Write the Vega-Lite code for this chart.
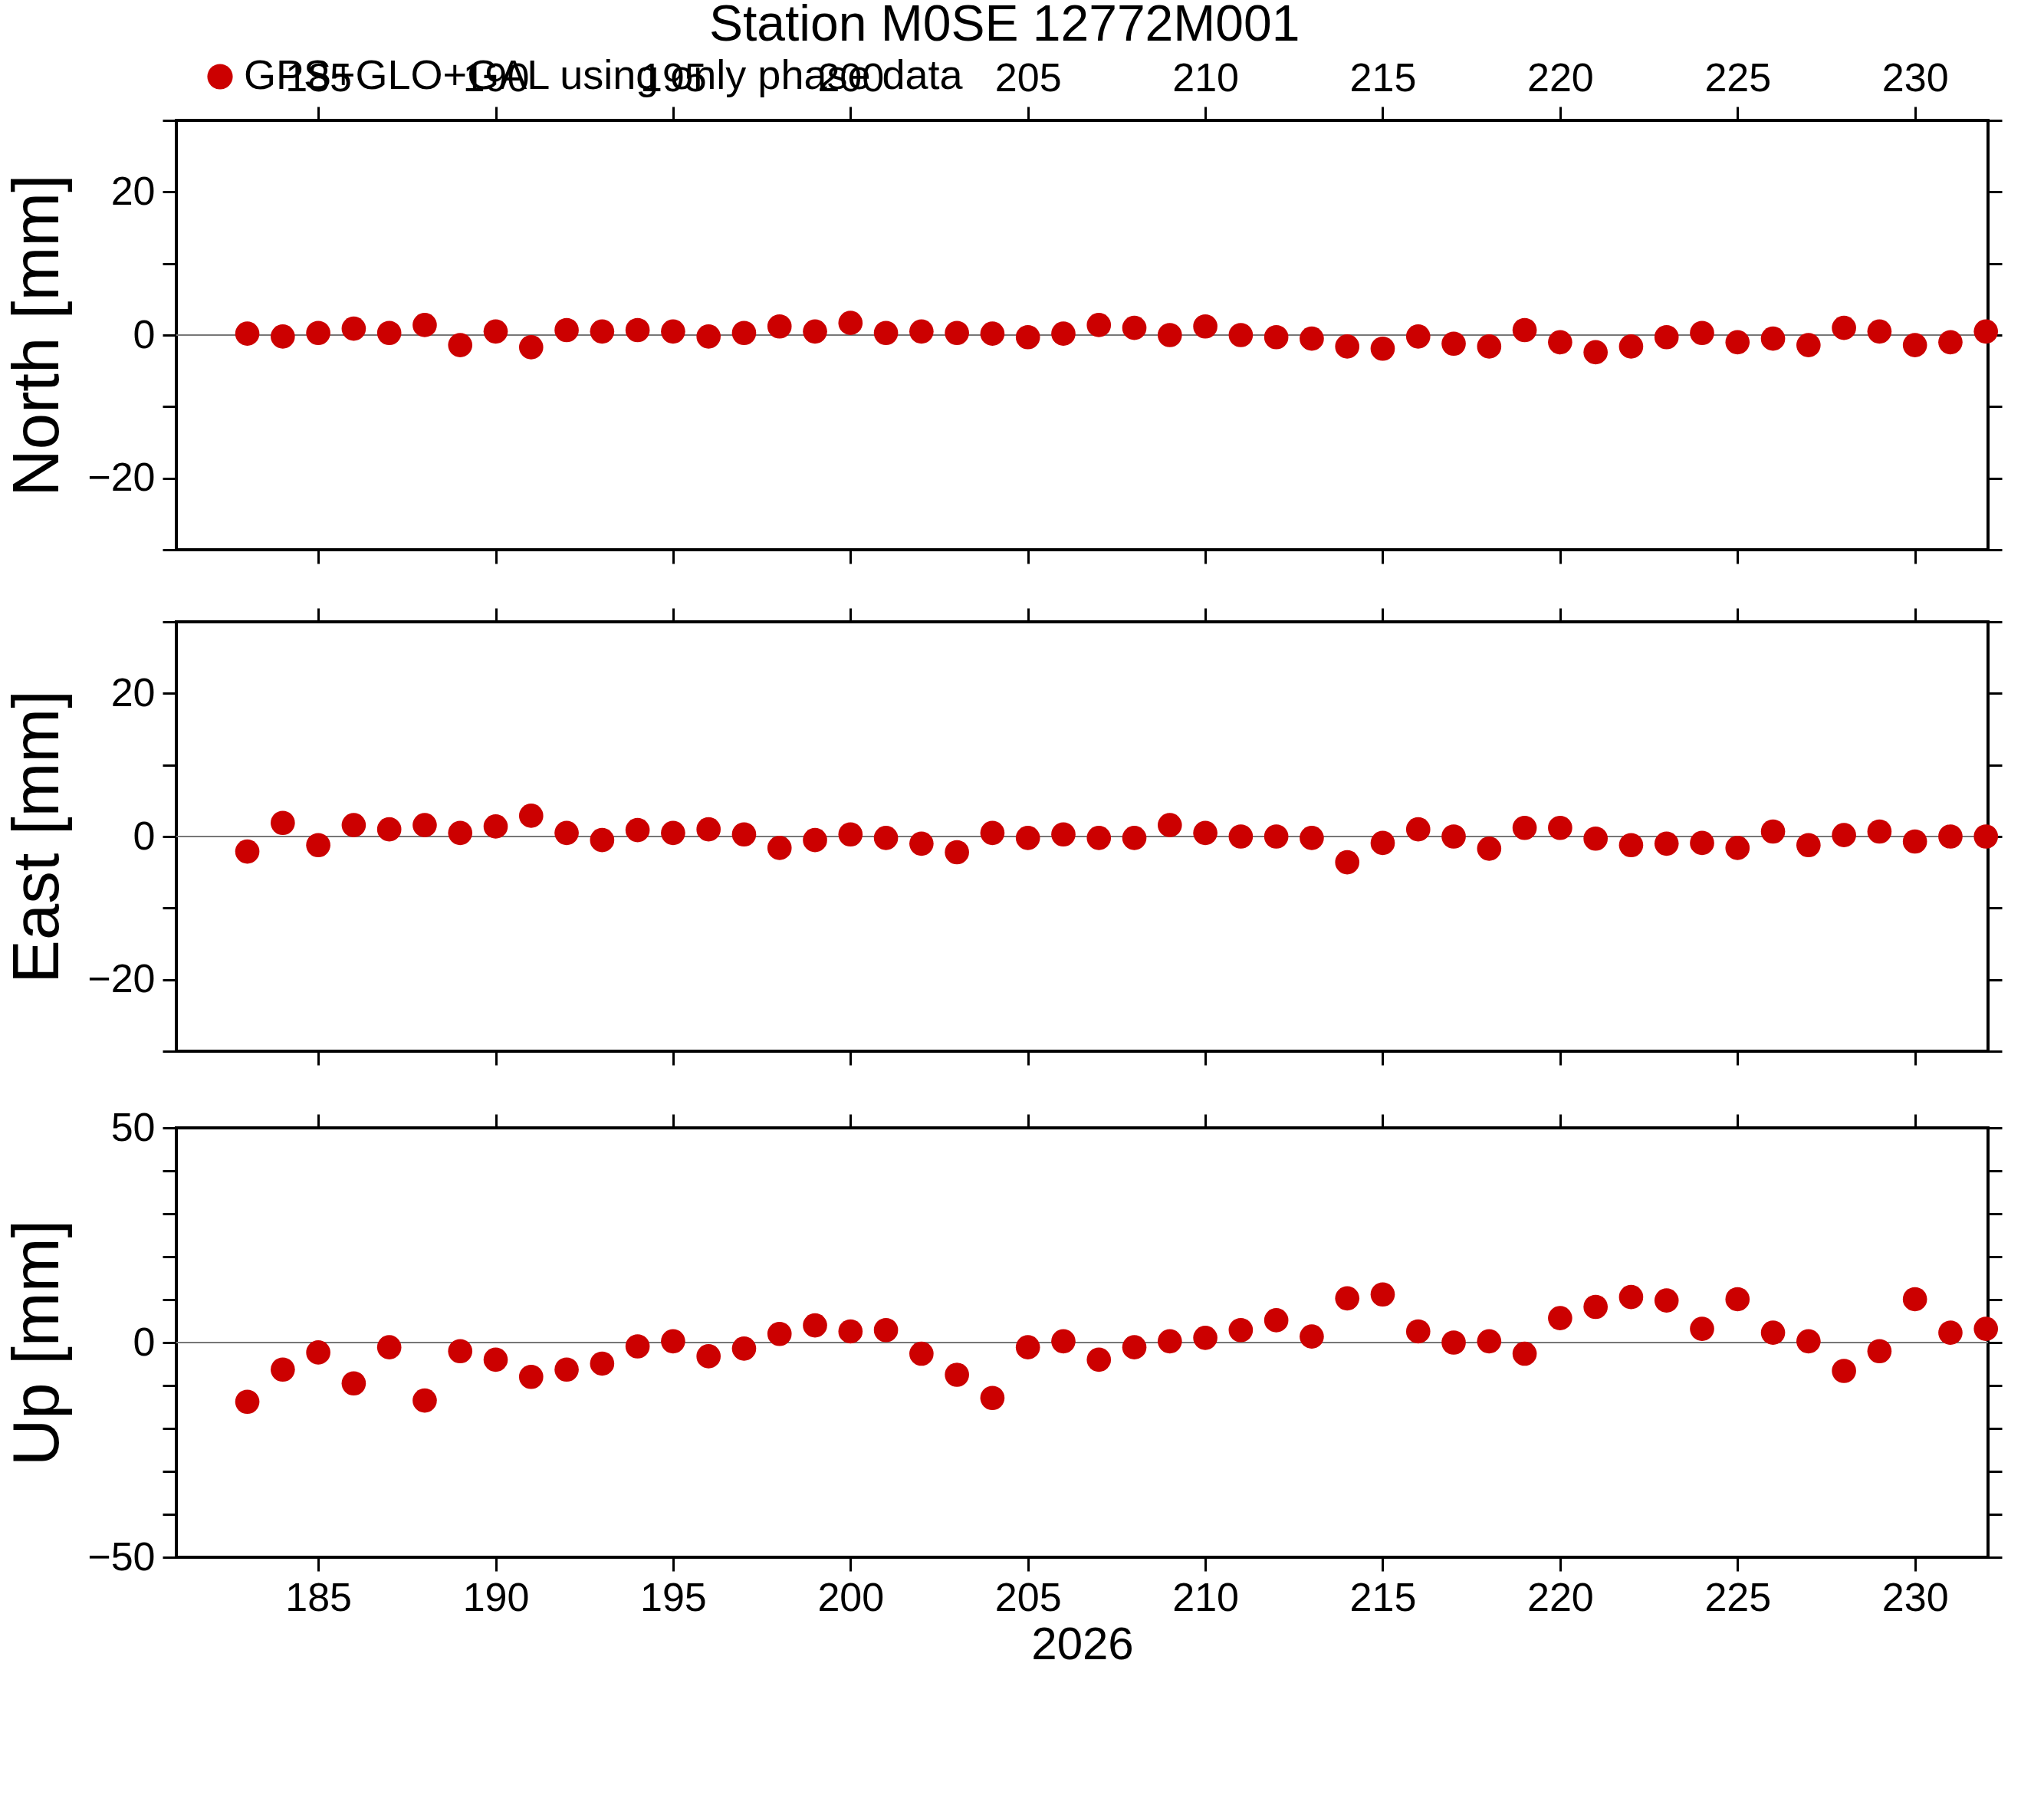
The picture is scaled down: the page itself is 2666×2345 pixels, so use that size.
{
  "$schema": "https://vega.github.io/schema/vega-lite/v6.json",
  "background": "white",
  "padding": {"left": 5, "top": 0, "right": 20, "bottom": 5},
  "title": {"text": "Station M0SE 12772M001", "fontSize": 66, "font": "Liberation Sans", "fontWeight": "normal", "offset": 6, "anchor": "middle"},
  "config": {
    "font": "Liberation Sans",
    "view": {"stroke": "black", "strokeWidth": 4},
    "axis": {"labelFont": "Liberation Sans", "labelFontSize": 52, "labelColor": "black", "tickColor": "black", "tickWidth": 3, "tickSize": 18, "domain": false, "grid": false, "titleFont": "Liberation Sans", "titleFontWeight": "normal", "titleColor": "black", "labelPadding": 10},
    "concat": {"spacing": 50},
    "legend": {"orient": "bottom-left", "labelFontSize": 54, "labelFont": "Liberation Sans", "symbolSize": 1100, "title": null, "offset": 30, "labelLimit": 2000}
  },
  "datasets": {
    "north": [
      {"day":183,"value":0.2},{"day":184,"value":-0.2},{"day":185,"value":0.3},{"day":186,"value":0.9},{"day":187,"value":0.3},{"day":188,"value":1.4},{"day":189,"value":-1.4},{"day":190,"value":0.5},{"day":191,"value":-1.7},{"day":192,"value":0.7},
      {"day":193,"value":0.5},{"day":194,"value":0.7},{"day":195,"value":0.5},{"day":196,"value":-0.2},{"day":197,"value":0.3},{"day":198,"value":1.2},{"day":199,"value":0.5},{"day":200,"value":1.7},{"day":201,"value":0.3},{"day":202,"value":0.5},
      {"day":203,"value":0.3},{"day":204,"value":0.2},{"day":205,"value":-0.3},{"day":206,"value":0.2},{"day":207,"value":1.4},{"day":208,"value":1.0},{"day":209,"value":0.0},{"day":210,"value":1.2},{"day":211,"value":0.0},{"day":212,"value":-0.3},
      {"day":213,"value":-0.5},{"day":214,"value":-1.6},{"day":215,"value":-1.9},{"day":216,"value":-0.2},{"day":217,"value":-1.2},{"day":218,"value":-1.6},{"day":219,"value":0.7},{"day":220,"value":-1.0},{"day":221,"value":-2.4},{"day":222,"value":-1.6},
      {"day":223,"value":-0.3},{"day":224,"value":0.3},{"day":225,"value":-1.0},{"day":226,"value":-0.5},{"day":227,"value":-1.4},{"day":228,"value":1.0},{"day":229,"value":0.5},{"day":230,"value":-1.4},{"day":231,"value":-1.0},{"day":232,"value":0.5}
    ],
    "east": [
      {"day":183,"value":-2.1},{"day":184,"value":1.9},{"day":185,"value":-1.2},{"day":186,"value":1.6},{"day":187,"value":1.0},{"day":188,"value":1.6},{"day":189,"value":0.5},{"day":190,"value":1.4},{"day":191,"value":2.9},{"day":192,"value":0.5},
      {"day":193,"value":-0.5},{"day":194,"value":0.9},{"day":195,"value":0.5},{"day":196,"value":1.0},{"day":197,"value":0.3},{"day":198,"value":-1.6},{"day":199,"value":-0.5},{"day":200,"value":0.3},{"day":201,"value":-0.2},{"day":202,"value":-1.0},
      {"day":203,"value":-2.2},{"day":204,"value":0.5},{"day":205,"value":-0.2},{"day":206,"value":0.3},{"day":207,"value":-0.2},{"day":208,"value":-0.2},{"day":209,"value":1.6},{"day":210,"value":0.5},{"day":211,"value":0.0},{"day":212,"value":0.0},
      {"day":213,"value":-0.2},{"day":214,"value":-3.6},{"day":215,"value":-0.9},{"day":216,"value":1.0},{"day":217,"value":0.0},{"day":218,"value":-1.7},{"day":219,"value":1.2},{"day":220,"value":1.2},{"day":221,"value":-0.3},{"day":222,"value":-1.2},
      {"day":223,"value":-1.0},{"day":224,"value":-0.9},{"day":225,"value":-1.6},{"day":226,"value":0.7},{"day":227,"value":-1.2},{"day":228,"value":0.2},{"day":229,"value":0.7},{"day":230,"value":-0.7},{"day":231,"value":0.0},{"day":232,"value":0.0}
    ],
    "up": [
      {"day":183,"value":-13.8},{"day":184,"value":-6.3},{"day":185,"value":-2.3},{"day":186,"value":-9.5},{"day":187,"value":-1.1},{"day":188,"value":-13.5},{"day":189,"value":-2.0},{"day":190,"value":-4.0},{"day":191,"value":-8.0},{"day":192,"value":-6.3},
      {"day":193,"value":-4.9},{"day":194,"value":-0.9},{"day":195,"value":0.3},{"day":196,"value":-3.2},{"day":197,"value":-1.4},{"day":198,"value":2.0},{"day":199,"value":4.0},{"day":200,"value":2.6},{"day":201,"value":2.9},{"day":202,"value":-2.6},
      {"day":203,"value":-7.5},{"day":204,"value":-12.9},{"day":205,"value":-1.1},{"day":206,"value":0.3},{"day":207,"value":-4.0},{"day":208,"value":-1.1},{"day":209,"value":0.3},{"day":210,"value":1.1},{"day":211,"value":2.9},{"day":212,"value":5.2},
      {"day":213,"value":1.4},{"day":214,"value":10.3},{"day":215,"value":11.2},{"day":216,"value":2.6},{"day":217,"value":0.0},{"day":218,"value":0.3},{"day":219,"value":-2.6},{"day":220,"value":5.7},{"day":221,"value":8.3},{"day":222,"value":10.6},
      {"day":223,"value":9.8},{"day":224,"value":3.2},{"day":225,"value":10.1},{"day":226,"value":2.3},{"day":227,"value":0.3},{"day":228,"value":-6.6},{"day":229,"value":-2.0},{"day":230,"value":10.1},{"day":231,"value":2.3},{"day":232,"value":3.2}
    ]
  },
  "vconcat": [
    {
      "width": 2363, "height": 560,
      "data": {"name": "north"},
      "resolve": {"axis": {"x": "independent", "y": "independent"}},
      "layer": [
        {"mark": {"type": "rule", "color": "#777777", "strokeWidth": 1.5}, "encoding": {"y": {"datum": 0, "type": "quantitative", "scale": {"domain": [-30, 30]}, "axis": {"orient": "right", "labels": false, "values": [-30,-20,-10,0,10,20,30], "title": null}}}},
        {"mark": {"type": "point", "opacity": 0},
          "encoding": {"x": {"field": "day", "type": "quantitative", "scale": {"domain": [181, 232.06], "nice": false, "zero": false}, "axis": {"orient": "bottom", "labels": false, "values": [185,190,195,200,205,210,215,220,225,230], "title": null}}, "y": {"field": "value", "type": "quantitative", "axis": null}}},
        {"mark": {"type": "circle", "size": 1000, "opacity": 1, "color": "#cc0000"},
          "encoding": {
            "x": {"field": "day", "type": "quantitative", "scale": {"domain": [181, 232.06], "nice": false, "zero": false}, "axis": {"orient": "top", "values": [185,190,195,200,205,210,215,220,225,230], "title": null}},
            "y": {"field": "value", "type": "quantitative", "scale": {"domain": [-30, 30], "nice": false}, "axis": {"values": [-30,-20,-10,0,10,20,30], "labelExpr": "abs(datum.value) == 20 || datum.value == 0 ? replace(datum.label, '-', '−') : ''", "title": "North [mm]", "titleFontSize": 85, "titlePadding": 20}},
            "color": {"datum": "GPS+GLO+GAL using only phase data", "type": "nominal", "scale": {"range": ["#cc0000"]}}
          }}
      ]
    },
    {
      "width": 2363, "height": 560,
      "data": {"name": "east"},
      "resolve": {"axis": {"x": "independent", "y": "independent"}},
      "layer": [
        {"mark": {"type": "rule", "color": "#777777", "strokeWidth": 1.5}, "encoding": {"y": {"datum": 0, "type": "quantitative", "scale": {"domain": [-30, 30]}, "axis": {"orient": "right", "labels": false, "values": [-30,-20,-10,0,10,20,30], "title": null}}}},
        {"mark": {"type": "point", "opacity": 0},
          "encoding": {"x": {"field": "day", "type": "quantitative", "scale": {"domain": [181, 232.06], "nice": false, "zero": false}, "axis": {"orient": "top", "labels": false, "values": [185,190,195,200,205,210,215,220,225,230], "title": null}}, "y": {"field": "value", "type": "quantitative", "axis": null}}},
        {"mark": {"type": "circle", "size": 1000, "opacity": 1, "color": "#cc0000"},
          "encoding": {
            "x": {"field": "day", "type": "quantitative", "scale": {"domain": [181, 232.06], "nice": false, "zero": false}, "axis": {"orient": "bottom", "labels": false, "values": [185,190,195,200,205,210,215,220,225,230], "title": null}},
            "y": {"field": "value", "type": "quantitative", "scale": {"domain": [-30, 30], "nice": false}, "axis": {"values": [-30,-20,-10,0,10,20,30], "labelExpr": "abs(datum.value) == 20 || datum.value == 0 ? replace(datum.label, '-', '−') : ''", "title": "East [mm]", "titleFontSize": 85, "titlePadding": 20}},
            "color": {"datum": "GPS+GLO+GAL using only phase data", "type": "nominal", "scale": {"range": ["#cc0000"]}}
          }}
      ]
    },
    {
      "width": 2363, "height": 560,
      "data": {"name": "up"},
      "resolve": {"axis": {"x": "independent", "y": "independent"}},
      "layer": [
        {"mark": {"type": "rule", "color": "#777777", "strokeWidth": 1.5}, "encoding": {"y": {"datum": 0, "type": "quantitative", "scale": {"domain": [-50, 50]}, "axis": {"orient": "right", "labels": false, "values": [-50,-40,-30,-20,-10,0,10,20,30,40,50], "title": null}}}},
        {"mark": {"type": "point", "opacity": 0},
          "encoding": {"x": {"field": "day", "type": "quantitative", "scale": {"domain": [181, 232.06], "nice": false, "zero": false}, "axis": {"orient": "top", "labels": false, "values": [185,190,195,200,205,210,215,220,225,230], "title": null}}, "y": {"field": "value", "type": "quantitative", "axis": null}}},
        {"mark": {"type": "circle", "size": 1000, "opacity": 1, "color": "#cc0000"},
          "encoding": {
            "x": {"field": "day", "type": "quantitative", "scale": {"domain": [181, 232.06], "nice": false, "zero": false}, "axis": {"orient": "bottom", "values": [185,190,195,200,205,210,215,220,225,230], "title": "2026", "titleFontSize": 60, "titlePadding": 6}},
            "y": {"field": "value", "type": "quantitative", "scale": {"domain": [-50, 50], "nice": false}, "axis": {"values": [-50,-40,-30,-20,-10,0,10,20,30,40,50], "labelExpr": "abs(datum.value) == 50 || datum.value == 0 ? replace(datum.label, '-', '−') : ''", "title": "Up [mm]", "titleFontSize": 85, "titlePadding": 20}},
            "color": {"datum": "GPS+GLO+GAL using only phase data", "type": "nominal", "scale": {"range": ["#cc0000"]}}
          }}
      ]
    }
  ]
}
